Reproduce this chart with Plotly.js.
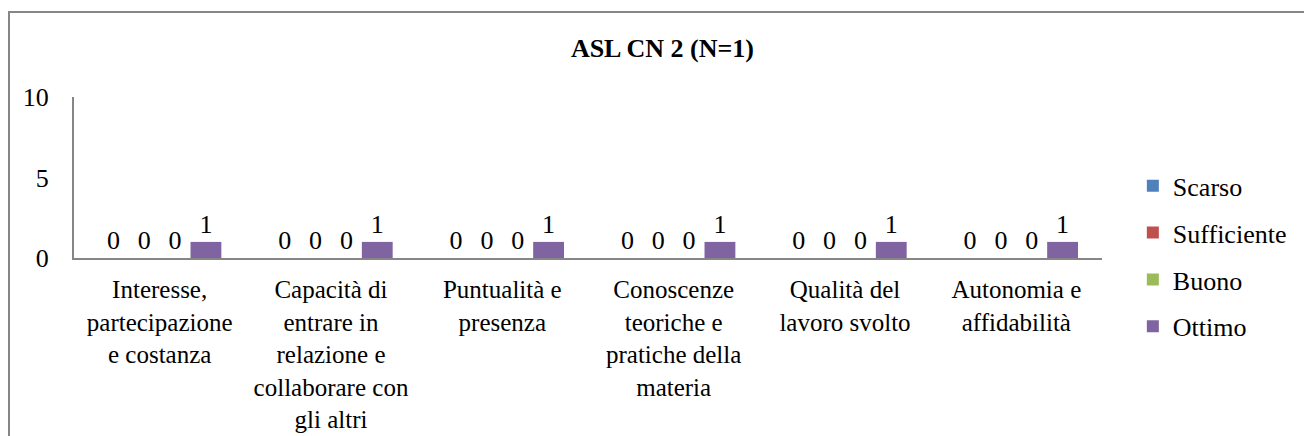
<!DOCTYPE html>
<html>
<head>
<meta charset="utf-8">
<script src="https://cdn.plot.ly/plotly-3.0.1.min.js"></script>
<style>
  html, body { margin: 0; padding: 0; background: #fff; }
  #wrap { position: relative; width: 1304px; height: 436px; overflow: hidden; }
  #chart { position: absolute; left: 0; top: 0; width: 1304px; height: 436px; }
  #frame { position: absolute; left: 8px; top: 11px; width: 1400px; height: 500px;
           border-left: 2px solid #868686; border-top: 2px solid #868686; pointer-events: none; }
</style>
</head>
<body>
<div id="wrap">
  <div id="chart"></div>
  <div id="frame"></div>
</div>
<script>
const categories = [
  "Interesse,<br>partecipazione<br>e costanza",
  "Capacità di<br>entrare in<br>relazione e<br>collaborare con<br>gli altri",
  "Puntualità e<br>presenza",
  "Conoscenze<br>teoriche e<br>pratiche della<br>materia",
  "Qualità del<br>lavoro svolto",
  "Autonomia e<br>affidabilità"
];
const seriesNames = ["Scarso", "Sufficiente", "Buono", "Ottimo"];
const scarso      = [0, 0, 0, 0, 0, 0];
const sufficiente = [0, 0, 0, 0, 0, 0];
const buono       = [0, 0, 0, 0, 0, 0];
const ottimo      = [1, 1, 1, 1, 1, 1];
const colors = ["#4F81BD", "#C0504D", "#9BBB59", "#8064A2"];
const yTicks = [0, 5, 10];

const FONT = "Liberation Serif";
const allValues = [scarso, sufficiente, buono, ottimo];

const traces = allValues.map((vals, i) => ({
  type: "bar",
  name: seriesNames[i],
  x: categories,
  y: vals,
  marker: { color: colors[i] },
  text: vals.map(v => String(v)),
  textposition: "outside",
  textfont: { family: FONT, size: 26, color: "#000" },
  cliponaxis: false,
  legendgroup: seriesNames[i],
  hoverinfo: "skip"
}));

const layout = {
  width: 1304,
  height: 436,
  margin: { l: 74, r: 193, t: 97, b: 178, pad: 0 },
  paper_bgcolor: "rgba(0,0,0,0)",
  plot_bgcolor: "rgba(0,0,0,0)",
  font: { family: FONT, size: 26, color: "#000" },
  title: {
    text: "ASL CN 2 (N=1)",
    font: { family: FONT, size: 26, color: "#000", weight: "bold" },
    xref: "container", yref: "container",
    x: 0.508, y: 1 - 48 / 436, xanchor: "center", yanchor: "middle"
  },
  barmode: "group",
  bargap: 0.28,
  bargroupgap: 0,
  showlegend: true,
  legend: {
    x: 1.03, y: 0.01, xanchor: "left", yanchor: "middle",
    font: { family: FONT, size: 26, color: "#000" },
    tracegroupgap: 10,
    traceorder: "grouped",
    maxheight: 436,
    bgcolor: "rgba(0,0,0,0)"
  },
  xaxis: {
    type: "category",
    showline: true, linecolor: "#868686", linewidth: 2,
    showgrid: false, zeroline: false, ticks: "",
    tickfont: { family: FONT, size: 25, color: "#000" },
    tickangle: 0,
    ticklabelstandoff: 8,
    automargin: false
  },
  yaxis: {
    range: [0, 10],
    tickvals: yTicks,
    ticktext: yTicks.map(String),
    showline: true, linecolor: "#868686", linewidth: 2,
    showgrid: false, zeroline: false, ticks: "",
    tickfont: { family: FONT, size: 26, color: "#000" },
    ticklabelstandoff: 18,
    automargin: false
  }
};

Plotly.newPlot("chart", traces, layout, { displayModeBar: false, staticPlot: true });
</script>
</body>
</html>
